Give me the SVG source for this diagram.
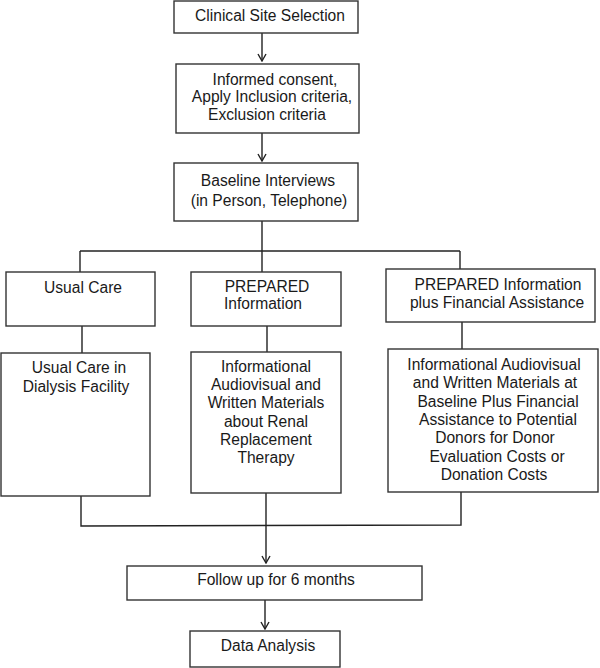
<svg xmlns="http://www.w3.org/2000/svg" width="600" height="668" viewBox="0 0 600 668">
<style>
.box{fill:#fff;stroke:#333;stroke-width:1.4}
.ln{fill:none;stroke:#222;stroke-width:1.4}
text{font-family:"Liberation Sans",Arial,sans-serif;font-size:15.6px;fill:#1a1a1a;text-anchor:middle}
</style>
<defs>
<marker id="ah" viewBox="-9 -6 10 12" refX="0" refY="0" markerWidth="10" markerHeight="12" markerUnits="userSpaceOnUse" orient="auto">
<path d="M-7,-4 L0,0 L-7,4" fill="none" stroke="#222" stroke-width="1.4"/>
</marker>
</defs>
<rect width="600" height="668" fill="#fff"/>
<g id="connectors">
<line class="ln" x1="262" y1="33" x2="262" y2="61" marker-end="url(#ah)"/>
<line class="ln" x1="262" y1="133" x2="262" y2="161" marker-end="url(#ah)"/>
<line class="ln" x1="262" y1="221" x2="262" y2="251"/>
<line class="ln" x1="80" y1="251" x2="460" y2="251"/>
<line class="ln" x1="80" y1="251" x2="80" y2="283" marker-end="url(#ah)"/>
<line class="ln" x1="262" y1="251" x2="262" y2="283" marker-end="url(#ah)"/>
<line class="ln" x1="460" y1="251" x2="460" y2="283" marker-end="url(#ah)"/>
<line class="ln" x1="82" y1="326" x2="82" y2="353"/>
<line class="ln" x1="267" y1="326" x2="267" y2="352"/>
<line class="ln" x1="462" y1="322" x2="462" y2="349"/>
<polyline class="ln" points="81,496 81,526 461,525 461,492"/>
<line class="ln" x1="266" y1="493" x2="266" y2="563" marker-end="url(#ah)"/>
<line class="ln" x1="265" y1="600" x2="265" y2="629" marker-end="url(#ah)"/>
</g>
<g id="site">
<rect class="box" x="174" y="1" width="184" height="32"/>
<text x="270" y="21">Clinical Site Selection</text>
</g>
<g id="consent">
<rect class="box" x="176" y="64" width="183" height="69"/>
<text x="275" y="85">Informed consent,</text>
<text x="272" y="102">Apply Inclusion criteria,</text>
<text x="267" y="120">Exclusion criteria</text>
</g>
<g id="baseline">
<rect class="box" x="174" y="163" width="184" height="58"/>
<text x="268" y="186">Baseline Interviews</text>
<text x="269" y="206">(in Person, Telephone)</text>
</g>
<g id="usual">
<rect class="box" x="6" y="272" width="149" height="54"/>
<text x="83" y="293">Usual Care</text>
</g>
<g id="usual-detail">
<rect class="box" x="1" y="353" width="149" height="143"/>
<text x="79" y="373">Usual Care in</text>
<text x="76" y="392">Dialysis Facility</text>
</g>
<g id="prepared">
<rect class="box" x="191" y="272" width="150" height="54"/>
<text x="267" y="292">PREPARED</text>
<text x="263" y="309">Information</text>
</g>
<g id="prepared-detail">
<rect class="box" x="191" y="352" width="150" height="141"/>
<text x="266" y="372">Informational</text>
<text x="266" y="390">Audiovisual and</text>
<text x="266" y="408">Written Materials</text>
<text x="266" y="427">about Renal</text>
<text x="266" y="445">Replacement</text>
<text x="266" y="463">Therapy</text>
</g>
<g id="financial">
<rect class="box" x="386" y="269" width="209" height="53"/>
<text x="498" y="290">PREPARED Information</text>
<text x="497" y="308">plus Financial Assistance</text>
</g>
<g id="financial-detail">
<rect class="box" x="388" y="349" width="210" height="143"/>
<text x="494" y="370">Informational Audiovisual</text>
<text x="495" y="388">and Written Materials at</text>
<text x="498" y="407">Baseline Plus Financial</text>
<text x="498" y="425">Assistance to Potential</text>
<text x="495" y="443">Donors for Donor</text>
<text x="497" y="462">Evaluation Costs or</text>
<text x="494" y="480">Donation Costs</text>
</g>
<g id="followup">
<rect class="box" x="127" y="566" width="295" height="34"/>
<text x="276" y="585">Follow up for 6 months</text>
</g>
<g id="analysis">
<rect class="box" x="190" y="631" width="150" height="36"/>
<text x="268" y="651">Data Analysis</text>
</g>
</svg>
